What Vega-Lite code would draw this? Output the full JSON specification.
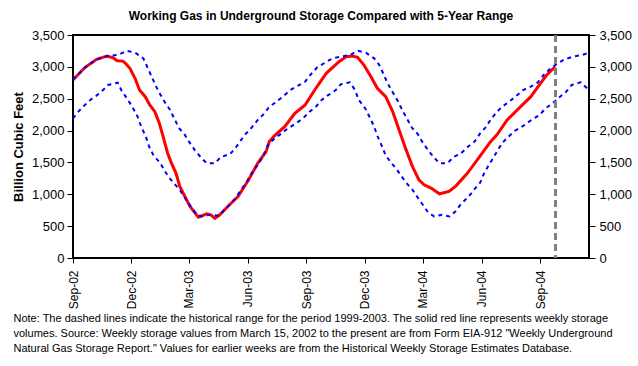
{
  "$schema": "https://vega.github.io/schema/vega-lite/v6.json",
  "width": 516,
  "height": 223,
  "autosize": {"type": "none"},
  "padding": {"left": 73, "top": 35, "right": 49, "bottom": 108},
  "background": "white",
  "title": {
    "text": "Working Gas in Underground Storage Compared with 5-Year Range",
    "font": "Liberation Sans",
    "fontSize": 12,
    "fontWeight": "bold",
    "color": "black",
    "anchor": "middle",
    "frame": "group",
    "dx": -10,
    "offset": 6
  },
  "config": {
    "view": {"stroke": "black", "strokeWidth": 2},
    "axis": {
      "labelFont": "Liberation Sans",
      "titleFont": "Liberation Sans",
      "labelColor": "black",
      "titleColor": "black",
      "tickColor": "black",
      "domain": false,
      "grid": false,
      "tickSize": 6,
      "tickWidth": 1
    }
  },
  "datasets": {
    "storage": [
      {"s": "Actual", "d": "2002-09-01", "v": 2795},
      {"s": "Actual", "d": "2002-09-20", "v": 2993},
      {"s": "Actual", "d": "2002-10-08", "v": 3118},
      {"s": "Actual", "d": "2002-10-24", "v": 3170},
      {"s": "Actual", "d": "2002-11-03", "v": 3140},
      {"s": "Actual", "d": "2002-11-09", "v": 3095},
      {"s": "Actual", "d": "2002-11-18", "v": 3090},
      {"s": "Actual", "d": "2002-11-22", "v": 3055},
      {"s": "Actual", "d": "2002-11-29", "v": 2977},
      {"s": "Actual", "d": "2002-12-07", "v": 2820},
      {"s": "Actual", "d": "2002-12-14", "v": 2637},
      {"s": "Actual", "d": "2002-12-23", "v": 2532},
      {"s": "Actual", "d": "2002-12-30", "v": 2402},
      {"s": "Actual", "d": "2003-01-07", "v": 2297},
      {"s": "Actual", "d": "2003-01-14", "v": 2115},
      {"s": "Actual", "d": "2003-01-20", "v": 1905},
      {"s": "Actual", "d": "2003-01-27", "v": 1645},
      {"s": "Actual", "d": "2003-02-02", "v": 1489},
      {"s": "Actual", "d": "2003-02-09", "v": 1332},
      {"s": "Actual", "d": "2003-02-15", "v": 1122},
      {"s": "Actual", "d": "2003-02-23", "v": 965},
      {"s": "Actual", "d": "2003-03-03", "v": 808},
      {"s": "Actual", "d": "2003-03-16", "v": 642},
      {"s": "Actual", "d": "2003-03-29", "v": 694},
      {"s": "Actual", "d": "2003-04-05", "v": 674},
      {"s": "Actual", "d": "2003-04-11", "v": 621},
      {"s": "Actual", "d": "2003-04-18", "v": 674},
      {"s": "Actual", "d": "2003-05-01", "v": 808},
      {"s": "Actual", "d": "2003-05-17", "v": 965},
      {"s": "Actual", "d": "2003-06-02", "v": 1215},
      {"s": "Actual", "d": "2003-06-17", "v": 1489},
      {"s": "Actual", "d": "2003-06-30", "v": 1670},
      {"s": "Actual", "d": "2003-07-05", "v": 1827},
      {"s": "Actual", "d": "2003-07-13", "v": 1916},
      {"s": "Actual", "d": "2003-07-29", "v": 2062},
      {"s": "Actual", "d": "2003-08-14", "v": 2272},
      {"s": "Actual", "d": "2003-08-30", "v": 2402},
      {"s": "Actual", "d": "2003-09-14", "v": 2637},
      {"s": "Actual", "d": "2003-10-02", "v": 2899},
      {"s": "Actual", "d": "2003-10-22", "v": 3081},
      {"s": "Actual", "d": "2003-11-02", "v": 3159},
      {"s": "Actual", "d": "2003-11-12", "v": 3170},
      {"s": "Actual", "d": "2003-11-20", "v": 3150},
      {"s": "Actual", "d": "2003-11-30", "v": 3029},
      {"s": "Actual", "d": "2003-12-11", "v": 2846},
      {"s": "Actual", "d": "2003-12-21", "v": 2664},
      {"s": "Actual", "d": "2004-01-03", "v": 2532},
      {"s": "Actual", "d": "2004-01-14", "v": 2297},
      {"s": "Actual", "d": "2004-01-24", "v": 2010},
      {"s": "Actual", "d": "2004-02-04", "v": 1697},
      {"s": "Actual", "d": "2004-02-14", "v": 1435},
      {"s": "Actual", "d": "2004-02-24", "v": 1227},
      {"s": "Actual", "d": "2004-03-03", "v": 1149},
      {"s": "Actual", "d": "2004-03-14", "v": 1097},
      {"s": "Actual", "d": "2004-03-27", "v": 1008},
      {"s": "Actual", "d": "2004-04-11", "v": 1044},
      {"s": "Actual", "d": "2004-04-22", "v": 1133},
      {"s": "Actual", "d": "2004-05-10", "v": 1332},
      {"s": "Actual", "d": "2004-05-31", "v": 1619},
      {"s": "Actual", "d": "2004-06-15", "v": 1827},
      {"s": "Actual", "d": "2004-06-25", "v": 1932},
      {"s": "Actual", "d": "2004-07-11", "v": 2167},
      {"s": "Actual", "d": "2004-08-01", "v": 2376},
      {"s": "Actual", "d": "2004-08-17", "v": 2532},
      {"s": "Actual", "d": "2004-09-01", "v": 2742},
      {"s": "Actual", "d": "2004-09-11", "v": 2872},
      {"s": "Actual", "d": "2004-09-24", "v": 3002},

      {"s": "Max", "d": "2002-09-01", "v": 2795},
      {"s": "Max", "d": "2002-09-20", "v": 2993},
      {"s": "Max", "d": "2002-10-08", "v": 3118},
      {"s": "Max", "d": "2002-10-25", "v": 3170},
      {"s": "Max", "d": "2002-11-11", "v": 3190},
      {"s": "Max", "d": "2002-11-24", "v": 3253},
      {"s": "Max", "d": "2002-12-07", "v": 3222},
      {"s": "Max", "d": "2002-12-20", "v": 3134},
      {"s": "Max", "d": "2002-12-26", "v": 3002},
      {"s": "Max", "d": "2003-01-02", "v": 2846},
      {"s": "Max", "d": "2003-01-09", "v": 2689},
      {"s": "Max", "d": "2003-01-16", "v": 2559},
      {"s": "Max", "d": "2003-01-23", "v": 2438},
      {"s": "Max", "d": "2003-01-31", "v": 2324},
      {"s": "Max", "d": "2003-02-06", "v": 2194},
      {"s": "Max", "d": "2003-02-14", "v": 2037},
      {"s": "Max", "d": "2003-02-23", "v": 1932},
      {"s": "Max", "d": "2003-03-03", "v": 1802},
      {"s": "Max", "d": "2003-03-11", "v": 1686},
      {"s": "Max", "d": "2003-03-21", "v": 1567},
      {"s": "Max", "d": "2003-03-29", "v": 1489},
      {"s": "Max", "d": "2003-04-11", "v": 1489},
      {"s": "Max", "d": "2003-04-20", "v": 1583},
      {"s": "Max", "d": "2003-05-05", "v": 1634},
      {"s": "Max", "d": "2003-05-14", "v": 1739},
      {"s": "Max", "d": "2003-05-22", "v": 1854},
      {"s": "Max", "d": "2003-05-30", "v": 1959},
      {"s": "Max", "d": "2003-06-08", "v": 2053},
      {"s": "Max", "d": "2003-06-16", "v": 2156},
      {"s": "Max", "d": "2003-06-25", "v": 2246},
      {"s": "Max", "d": "2003-07-04", "v": 2360},
      {"s": "Max", "d": "2003-07-14", "v": 2438},
      {"s": "Max", "d": "2003-07-26", "v": 2532},
      {"s": "Max", "d": "2003-08-07", "v": 2637},
      {"s": "Max", "d": "2003-08-18", "v": 2700},
      {"s": "Max", "d": "2003-08-30", "v": 2767},
      {"s": "Max", "d": "2003-09-07", "v": 2872},
      {"s": "Max", "d": "2003-09-18", "v": 2993},
      {"s": "Max", "d": "2003-09-30", "v": 3065},
      {"s": "Max", "d": "2003-10-12", "v": 3134},
      {"s": "Max", "d": "2003-10-25", "v": 3159},
      {"s": "Max", "d": "2003-11-08", "v": 3186},
      {"s": "Max", "d": "2003-11-21", "v": 3253},
      {"s": "Max", "d": "2003-12-03", "v": 3222},
      {"s": "Max", "d": "2003-12-16", "v": 3134},
      {"s": "Max", "d": "2003-12-24", "v": 3029},
      {"s": "Max", "d": "2003-12-30", "v": 2899},
      {"s": "Max", "d": "2004-01-06", "v": 2742},
      {"s": "Max", "d": "2004-01-14", "v": 2601},
      {"s": "Max", "d": "2004-01-22", "v": 2465},
      {"s": "Max", "d": "2004-01-28", "v": 2340},
      {"s": "Max", "d": "2004-02-05", "v": 2194},
      {"s": "Max", "d": "2004-02-13", "v": 2047},
      {"s": "Max", "d": "2004-02-22", "v": 1948},
      {"s": "Max", "d": "2004-03-01", "v": 1811},
      {"s": "Max", "d": "2004-03-09", "v": 1697},
      {"s": "Max", "d": "2004-03-18", "v": 1583},
      {"s": "Max", "d": "2004-03-27", "v": 1489},
      {"s": "Max", "d": "2004-04-09", "v": 1489},
      {"s": "Max", "d": "2004-04-17", "v": 1577},
      {"s": "Max", "d": "2004-04-30", "v": 1645},
      {"s": "Max", "d": "2004-05-11", "v": 1749},
      {"s": "Max", "d": "2004-05-21", "v": 1827},
      {"s": "Max", "d": "2004-05-30", "v": 1959},
      {"s": "Max", "d": "2004-06-07", "v": 2047},
      {"s": "Max", "d": "2004-06-15", "v": 2167},
      {"s": "Max", "d": "2004-06-24", "v": 2282},
      {"s": "Max", "d": "2004-07-02", "v": 2366},
      {"s": "Max", "d": "2004-07-12", "v": 2438},
      {"s": "Max", "d": "2004-07-24", "v": 2532},
      {"s": "Max", "d": "2004-08-05", "v": 2637},
      {"s": "Max", "d": "2004-08-17", "v": 2689},
      {"s": "Max", "d": "2004-08-28", "v": 2758},
      {"s": "Max", "d": "2004-09-06", "v": 2872},
      {"s": "Max", "d": "2004-09-17", "v": 2977},
      {"s": "Max", "d": "2004-09-28", "v": 3055},
      {"s": "Max", "d": "2004-10-10", "v": 3123},
      {"s": "Max", "d": "2004-10-22", "v": 3159},
      {"s": "Max", "d": "2004-11-05", "v": 3186},
      {"s": "Max", "d": "2004-11-16", "v": 3220},

      {"s": "Min", "d": "2002-09-01", "v": 2190},
      {"s": "Min", "d": "2002-09-08", "v": 2282},
      {"s": "Min", "d": "2002-09-18", "v": 2387},
      {"s": "Min", "d": "2002-09-28", "v": 2481},
      {"s": "Min", "d": "2002-10-07", "v": 2543},
      {"s": "Min", "d": "2002-10-18", "v": 2637},
      {"s": "Min", "d": "2002-10-26", "v": 2716},
      {"s": "Min", "d": "2002-11-10", "v": 2752},
      {"s": "Min", "d": "2002-11-16", "v": 2626},
      {"s": "Min", "d": "2002-11-25", "v": 2496},
      {"s": "Min", "d": "2002-12-03", "v": 2366},
      {"s": "Min", "d": "2002-12-11", "v": 2219},
      {"s": "Min", "d": "2002-12-17", "v": 2053},
      {"s": "Min", "d": "2002-12-24", "v": 1905},
      {"s": "Min", "d": "2002-12-29", "v": 1749},
      {"s": "Min", "d": "2003-01-05", "v": 1608},
      {"s": "Min", "d": "2003-01-15", "v": 1498},
      {"s": "Min", "d": "2003-01-23", "v": 1357},
      {"s": "Min", "d": "2003-01-31", "v": 1243},
      {"s": "Min", "d": "2003-02-08", "v": 1149},
      {"s": "Min", "d": "2003-02-15", "v": 1070},
      {"s": "Min", "d": "2003-02-25", "v": 914},
      {"s": "Min", "d": "2003-03-06", "v": 784},
      {"s": "Min", "d": "2003-03-14", "v": 679},
      {"s": "Min", "d": "2003-03-21", "v": 652},
      {"s": "Min", "d": "2003-04-03", "v": 679},
      {"s": "Min", "d": "2003-04-17", "v": 663},
      {"s": "Min", "d": "2003-04-29", "v": 784},
      {"s": "Min", "d": "2003-05-12", "v": 925},
      {"s": "Min", "d": "2003-05-22", "v": 1070},
      {"s": "Min", "d": "2003-05-31", "v": 1200},
      {"s": "Min", "d": "2003-06-09", "v": 1357},
      {"s": "Min", "d": "2003-06-17", "v": 1462},
      {"s": "Min", "d": "2003-06-25", "v": 1592},
      {"s": "Min", "d": "2003-07-03", "v": 1775},
      {"s": "Min", "d": "2003-07-11", "v": 1854},
      {"s": "Min", "d": "2003-07-21", "v": 1932},
      {"s": "Min", "d": "2003-07-31", "v": 2010},
      {"s": "Min", "d": "2003-08-14", "v": 2104},
      {"s": "Min", "d": "2003-08-27", "v": 2194},
      {"s": "Min", "d": "2003-09-06", "v": 2297},
      {"s": "Min", "d": "2003-09-16", "v": 2376},
      {"s": "Min", "d": "2003-09-25", "v": 2481},
      {"s": "Min", "d": "2003-10-04", "v": 2548},
      {"s": "Min", "d": "2003-10-17", "v": 2637},
      {"s": "Min", "d": "2003-10-25", "v": 2727},
      {"s": "Min", "d": "2003-11-08", "v": 2758},
      {"s": "Min", "d": "2003-11-16", "v": 2637},
      {"s": "Min", "d": "2003-11-22", "v": 2481},
      {"s": "Min", "d": "2003-12-02", "v": 2350},
      {"s": "Min", "d": "2003-12-09", "v": 2209},
      {"s": "Min", "d": "2003-12-16", "v": 2062},
      {"s": "Min", "d": "2003-12-21", "v": 1916},
      {"s": "Min", "d": "2003-12-28", "v": 1760},
      {"s": "Min", "d": "2004-01-03", "v": 1608},
      {"s": "Min", "d": "2004-01-11", "v": 1504},
      {"s": "Min", "d": "2004-01-20", "v": 1395},
      {"s": "Min", "d": "2004-01-28", "v": 1279},
      {"s": "Min", "d": "2004-02-06", "v": 1160},
      {"s": "Min", "d": "2004-02-14", "v": 1070},
      {"s": "Min", "d": "2004-02-22", "v": 950},
      {"s": "Min", "d": "2004-03-01", "v": 835},
      {"s": "Min", "d": "2004-03-09", "v": 721},
      {"s": "Min", "d": "2004-03-19", "v": 652},
      {"s": "Min", "d": "2004-03-31", "v": 679},
      {"s": "Min", "d": "2004-04-12", "v": 652},
      {"s": "Min", "d": "2004-04-21", "v": 730},
      {"s": "Min", "d": "2004-04-30", "v": 851},
      {"s": "Min", "d": "2004-05-12", "v": 965},
      {"s": "Min", "d": "2004-05-21", "v": 1081},
      {"s": "Min", "d": "2004-05-30", "v": 1185},
      {"s": "Min", "d": "2004-06-05", "v": 1332},
      {"s": "Min", "d": "2004-06-11", "v": 1435},
      {"s": "Min", "d": "2004-06-19", "v": 1567},
      {"s": "Min", "d": "2004-06-25", "v": 1670},
      {"s": "Min", "d": "2004-07-03", "v": 1802},
      {"s": "Min", "d": "2004-07-12", "v": 1896},
      {"s": "Min", "d": "2004-07-23", "v": 1995},
      {"s": "Min", "d": "2004-08-05", "v": 2073},
      {"s": "Min", "d": "2004-08-18", "v": 2167},
      {"s": "Min", "d": "2004-08-31", "v": 2246},
      {"s": "Min", "d": "2004-09-09", "v": 2350},
      {"s": "Min", "d": "2004-09-19", "v": 2418},
      {"s": "Min", "d": "2004-09-30", "v": 2517},
      {"s": "Min", "d": "2004-10-10", "v": 2595},
      {"s": "Min", "d": "2004-10-20", "v": 2716},
      {"s": "Min", "d": "2004-11-03", "v": 2758},
      {"s": "Min", "d": "2004-11-13", "v": 2664}
    ]
  },
  "data": {"name": "storage"},
  "layer": [
    {
      "transform": [{"filter": "datum.s === 'Actual'"}],
      "mark": {"type": "line", "color": "#FF0000", "strokeWidth": 3, "clip": true},
      "encoding": {
        "x": {
          "field": "d",
          "type": "temporal",
          "scale": {
            "type": "utc",
            "domain": [
              {"year": 2002, "month": 9, "date": 1, "utc": true},
              {"year": 2004, "month": 11, "date": 16, "utc": true}
            ]
          },
          "axis": {
            "format": "%b-%y",
            "labelAngle": -90,
            "labelFontSize": 12,
            "tickSize": 5,
            "labelPadding": 7,
            "values": [
              {"year": 2002, "month": 9, "date": 1, "utc": true},
              {"year": 2002, "month": 12, "date": 1, "utc": true},
              {"year": 2003, "month": 3, "date": 1, "utc": true},
              {"year": 2003, "month": 6, "date": 1, "utc": true},
              {"year": 2003, "month": 9, "date": 1, "utc": true},
              {"year": 2003, "month": 12, "date": 1, "utc": true},
              {"year": 2004, "month": 3, "date": 1, "utc": true},
              {"year": 2004, "month": 6, "date": 1, "utc": true},
              {"year": 2004, "month": 9, "date": 1, "utc": true}
            ],
            "title": [
              "Note:   The dashed lines indicate the historical range for the period 1999-2003.  The solid red line represents weekly storage",
              "volumes.  Source:  Weekly storage values from March 15, 2002 to the present are from Form EIA-912 \"Weekly Underground",
              "Natural Gas Storage Report.\"  Values for earlier weeks are from the Historical Weekly Storage Estimates Database."
            ],
            "titleFontSize": 11,
            "titleFontWeight": "normal",
            "titleAnchor": "start",
            "titleAlign": "left",
            "titleBaseline": "top",
            "titleX": -60,
            "titleY": 54,
            "titleLineHeight": 15
          }
        },
        "y": {
          "field": "v",
          "type": "quantitative",
          "scale": {"domain": [0, 3500], "nice": false},
          "axis": {
            "orient": "left",
            "values": [0, 500, 1000, 1500, 2000, 2500, 3000, 3500],
            "format": ",.0f",
            "labelFontSize": 13,
            "labelPadding": 3,
            "title": "Billion Cubic Feet",
            "titleFontSize": 13,
            "titleFontWeight": "bold",
            "titlePadding": 6
          }
        }
      }
    },
    {
      "transform": [{"filter": "datum.s !== 'Actual'"}],
      "mark": {"type": "line", "color": "#0000FF", "strokeWidth": 2, "strokeDash": [4, 4], "clip": true},
      "encoding": {
        "x": {"field": "d", "type": "temporal"},
        "y": {
          "field": "v",
          "type": "quantitative",
          "axis": {
            "orient": "right",
            "values": [0, 500, 1000, 1500, 2000, 2500, 3000, 3500],
            "format": ",.0f",
            "labelFontSize": 13,
            "labelPadding": 4,
            "title": null
          }
        },
        "detail": {"field": "s", "type": "nominal"}
      }
    },
    {
      "mark": {"type": "rule", "color": "#808080", "strokeWidth": 2, "strokeDash": [7, 4]},
      "encoding": {
        "x": {"datum": {"year": 2004, "month": 9, "date": 24, "utc": true}, "type": "temporal"}
      }
    }
  ],
  "resolve": {"axis": {"y": "independent"}}
}
